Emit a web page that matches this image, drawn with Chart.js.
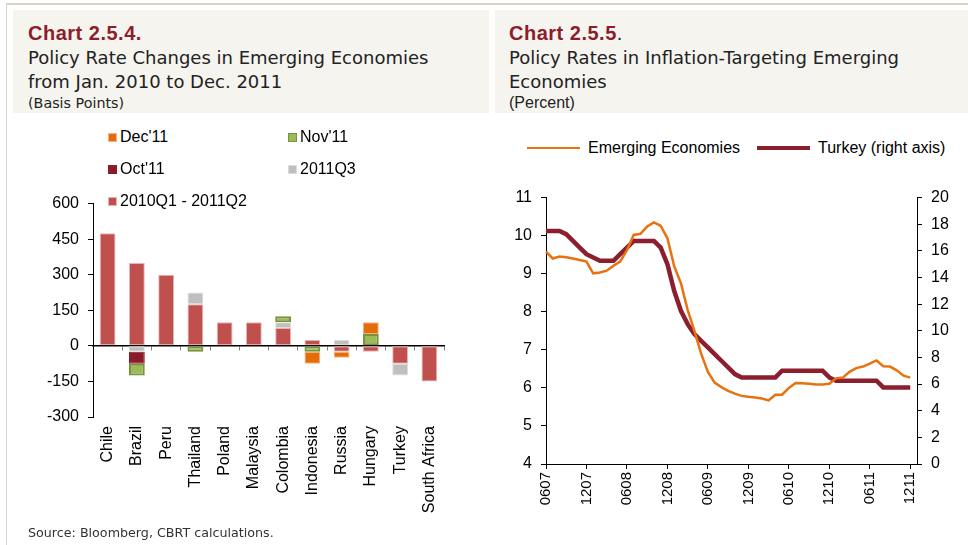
<!DOCTYPE html>
<html>
<head>
<meta charset="utf-8">
<script src="https://cdn.jsdelivr.net/npm/chart.js@4.4.1/dist/chart.umd.min.js"></script>
<style>
  body { margin: 0; width: 968px; height: 545px; background: #fff; position: relative; overflow: hidden; font-family: "Liberation Sans", Arial, sans-serif; }
  .frame-top { position: absolute; left: 7px; top: 3px; width: 961px; height: 2px; background: #ddd3c2; }
  .frame-left { position: absolute; left: 6px; top: 3px; width: 1px; height: 542px; background: #d6d6d6; }
  .head { position: absolute; top: 10px; height: 103px; background: #f6f4ef; }
  .title { position: absolute; font-family: "Liberation Sans", Arial, sans-serif; font-weight: bold; font-size: 20px; color: #8c1d2d; letter-spacing: 0.5px; }
  .sub { position: absolute; font-family: "DejaVu Sans", sans-serif; font-size: 18px; color: #222; line-height: 24px; white-space: nowrap; }
  .unit { position: absolute; color: #222; white-space: nowrap; }
  canvas { position: absolute; }
  .legend { position: absolute; font-size: 16px; color: #000; }
  .legend .item { position: absolute; display: flex; align-items: center; white-space: nowrap; }
  .legend .box { width: 9px; height: 9px; margin-right: 3px; box-sizing: border-box; }
  .legend .line { width: 53px; margin-right: 8px; }
  .source { position: absolute; left: 28px; top: 525px; font-family: "DejaVu Sans", sans-serif; font-size: 12.7px; color: #333; }
</style>
</head>
<body>
<div class="frame-top"></div>
<div class="frame-left"></div>

<div class="head" style="left:13px; width:476px;"></div>
<div class="head" style="left:495px; width:473px;"></div>

<div class="title" style="left:28px; top:22px;">Chart 2.5.4.</div>
<div class="sub" style="left:28px; top:46px;">Policy Rate Changes in Emerging Economies<br>from Jan. 2010 to Dec. 2011</div>
<div class="unit" style="left:28px; top:95px; font-family:'DejaVu Sans',sans-serif; font-size:14.3px;">(Basis Points)</div>

<div class="title" style="left:509px; top:22px;">Chart 2.5.5<span style="color:#222; font-weight:normal;">.</span></div>
<div class="sub" style="left:509px; top:46px;">Policy Rates in Inflation-Targeting Emerging<br>Economies</div>
<div class="unit" style="left:509px; top:94px; font-size:16px;">(Percent)</div>

<canvas id="barChart" width="480" height="352" style="left:0; top:185px;"></canvas>
<div class="legend" id="barLegend" style="left:108px; top:128px;"></div>

<canvas id="lineChart" width="473" height="366" style="left:495px; top:179px;"></canvas>
<div class="legend" id="lineLegend" style="left:527px; top:138px;"></div>

<div class="source">Source: Bloomberg, CBRT calculations.</div>

<script>
// Chart 2.5.4 - policy rate changes, basis points
const countries = ['Chile', 'Brazil', 'Peru', 'Thailand', 'Poland', 'Malaysia', 'Colombia', 'Indonesia', 'Russia', 'Hungary', 'Turkey', 'South Africa'];
const change2010Q1to2011Q2 = [475, 350, 300, 175, 100, 100, 75, 25, -25, -25, -75, -150];
const change2011Q3 = [null, -25, null, 50, null, null, 25, null, 25, null, -50, null];
const changeOct11 = [null, -50, null, null, null, null, null, null, null, null, null, null];
const changeNov11 = [null, -50, null, -25, null, null, 25, -25, null, 50, null, null];
const changeDec11 = [null, null, null, null, null, null, null, -50, -25, 50, null, null];

// Chart 2.5.5 - policy rates, percent (monthly, Jun 2007 - Dec 2011)
const emergingRate = [
  9.58, 9.40, 9.45, 9.43, 9.40, 9.36, 9.32, 9.01, 9.03, 9.08, 9.21, 9.32,
  9.62, 10.02, 10.05, 10.24, 10.35, 10.26, 9.93, 9.20, 8.75, 8.05, 7.50, 6.90,
  6.42, 6.14, 6.02, 5.92, 5.85, 5.79, 5.77, 5.75, 5.72, 5.67, 5.82, 5.82,
  6.00, 6.13, 6.12, 6.11, 6.09, 6.09, 6.11, 6.25, 6.27, 6.42, 6.52, 6.56,
  6.64, 6.72, 6.57, 6.56, 6.46, 6.32, 6.27
];
const turkeyRate = [
  17.5, 17.5, 17.5, 17.25, 16.75, 16.25, 15.75, 15.5, 15.25, 15.25, 15.25, 15.75,
  16.25, 16.75, 16.75, 16.75, 16.75, 16.25, 15.0, 13.0, 11.5, 10.5, 9.75, 9.25,
  8.75, 8.25, 7.75, 7.25, 6.75, 6.5, 6.5, 6.5, 6.5, 6.5, 6.5, 7.0,
  7.0, 7.0, 7.0, 7.0, 7.0, 7.0, 6.5, 6.25, 6.25, 6.25, 6.25, 6.25,
  6.25, 6.25, 5.75, 5.75, 5.75, 5.75, 5.75
];

// month labels MMYY from Jun 2007, one extra month so the axis runs past Dec 2011
const months = [];
for (let i = 0; i < 56; i++) {
  const m = (6 + i - 1) % 12 + 1;
  const y = 7 + Math.floor((5 + i) / 12);
  months.push(String(m).padStart(2, '0') + String(y).padStart(2, '0'));
}

Chart.defaults.font.family = '"Liberation Sans", Arial, sans-serif';
Chart.defaults.font.size = 16;
Chart.defaults.color = '#000';

const barDatasets = [
  { label: '2010Q1 - 2011Q2', data: change2010Q1to2011Q2, backgroundColor: '#c0504d', borderColor: '#e8b4b3', borderWidth: 1 },
  { label: '2011Q3', data: change2011Q3, backgroundColor: '#bfbfbf', borderColor: '#dcdcdc', borderWidth: 1 },
  { label: "Oct'11", data: changeOct11, backgroundColor: '#8b1a2b', borderColor: '#8b1a2b', borderWidth: 1 },
  { label: "Nov'11", data: changeNov11, backgroundColor: '#9bbb59', borderColor: '#77933c', borderWidth: 2 },
  { label: "Dec'11", data: changeDec11, backgroundColor: '#e46c0a', borderColor: '#f5b27a', borderWidth: 1 }
];

new Chart(document.getElementById('barChart'), {
  type: 'bar',
  data: {
    labels: countries,
    datasets: barDatasets.map(d => Object.assign({ barPercentage: 0.54, categoryPercentage: 1, borderSkipped: false }, d))
  },
  options: {
    responsive: false,
    animation: false,
    layout: { padding: { top: 12, right: 36, left: 0, bottom: 0 } },
    plugins: { legend: { display: false }, tooltip: { enabled: false } },
    scales: {
      x: {
        stacked: true,
        grid: { display: false, drawTicks: false },
        border: { display: false },
        ticks: { minRotation: 90, maxRotation: 90, autoSkip: false, padding: 9 },
        afterFit: s => { s.height = 120; }
      },
      xZero: {
        type: 'category',
        labels: countries,
        position: { y: 0 },
        offset: true,
        z: 1,
        grid: { offset: true, drawOnChartArea: false, drawTicks: true, tickLength: 4, color: '#808080' },
        border: { color: '#000', width: 1.5 },
        ticks: { display: false }
      },
      y: {
        stacked: true,
        min: -300,
        max: 600,
        ticks: { stepSize: 150, padding: 9 },
        grid: { drawOnChartArea: false, tickLength: 5, color: '#000' },
        border: { color: '#000' },
        afterFit: s => { s.width = 93; }
      }
    }
  }
});

// two-column legend like the original, last series first
const barLegend = document.getElementById('barLegend');
barDatasets.slice().reverse().forEach((d, i) => {
  const item = document.createElement('div');
  item.className = 'item';
  item.style.left = (i % 2) * 180 + 'px';
  item.style.top = Math.floor(i / 2) * 32 + 'px';
  item.innerHTML = '<span class="box" style="background:' + d.backgroundColor + '; border:1px solid ' + d.borderColor + ';"></span>' + d.label;
  barLegend.appendChild(item);
});

const lineDatasets = [
  { label: 'Emerging Economies', data: emergingRate, borderColor: '#e8720f', borderWidth: 2.5, yAxisID: 'y' },
  { label: 'Turkey (right axis)', data: turkeyRate, borderColor: '#8b1f2e', borderWidth: 4.5, yAxisID: 'y1' }
];

new Chart(document.getElementById('lineChart'), {
  type: 'line',
  data: {
    labels: months,
    datasets: lineDatasets.map(d => Object.assign({ pointRadius: 0, tension: 0, fill: false }, d))
  },
  options: {
    responsive: false,
    animation: false,
    layout: { padding: { top: 16, right: 0, left: 0, bottom: 0 } },
    plugins: { legend: { display: false }, tooltip: { enabled: false } },
    scales: {
      x: {
        grid: { drawOnChartArea: false, tickLength: 5, color: '#000' },
        border: { color: '#000' },
        ticks: {
          autoSkip: false, minRotation: 90, maxRotation: 90, padding: 3, font: { size: 15 },
          callback: (v, i) => (i % 6 === 0 ? months[i] : null)
        },
        afterFit: s => { s.height = 81; }
      },
      y: {
        position: 'left',
        min: 4,
        max: 11,
        ticks: { stepSize: 1, padding: 9 },
        grid: { drawOnChartArea: false, tickLength: 5, color: '#000' },
        border: { color: '#000' },
        afterFit: s => { s.width = 51; }
      },
      y1: {
        position: 'right',
        min: 0,
        max: 20,
        ticks: { stepSize: 2, padding: 9 },
        grid: { drawOnChartArea: false, tickLength: 5, color: '#000' },
        border: { color: '#000' },
        afterFit: s => { s.width = 51; }
      }
    }
  }
});

const lineLegend = document.getElementById('lineLegend');
lineDatasets.forEach((d, i) => {
  const item = document.createElement('div');
  item.className = 'item';
  item.style.left = i * 230 + 'px';
  item.style.top = '0px';
  item.style.height = '20px';
  item.innerHTML = '<span class="line" style="height:' + d.borderWidth + 'px; background:' + d.borderColor + ';"></span>' + d.label;
  lineLegend.appendChild(item);
});
</script>
</body>
</html>
